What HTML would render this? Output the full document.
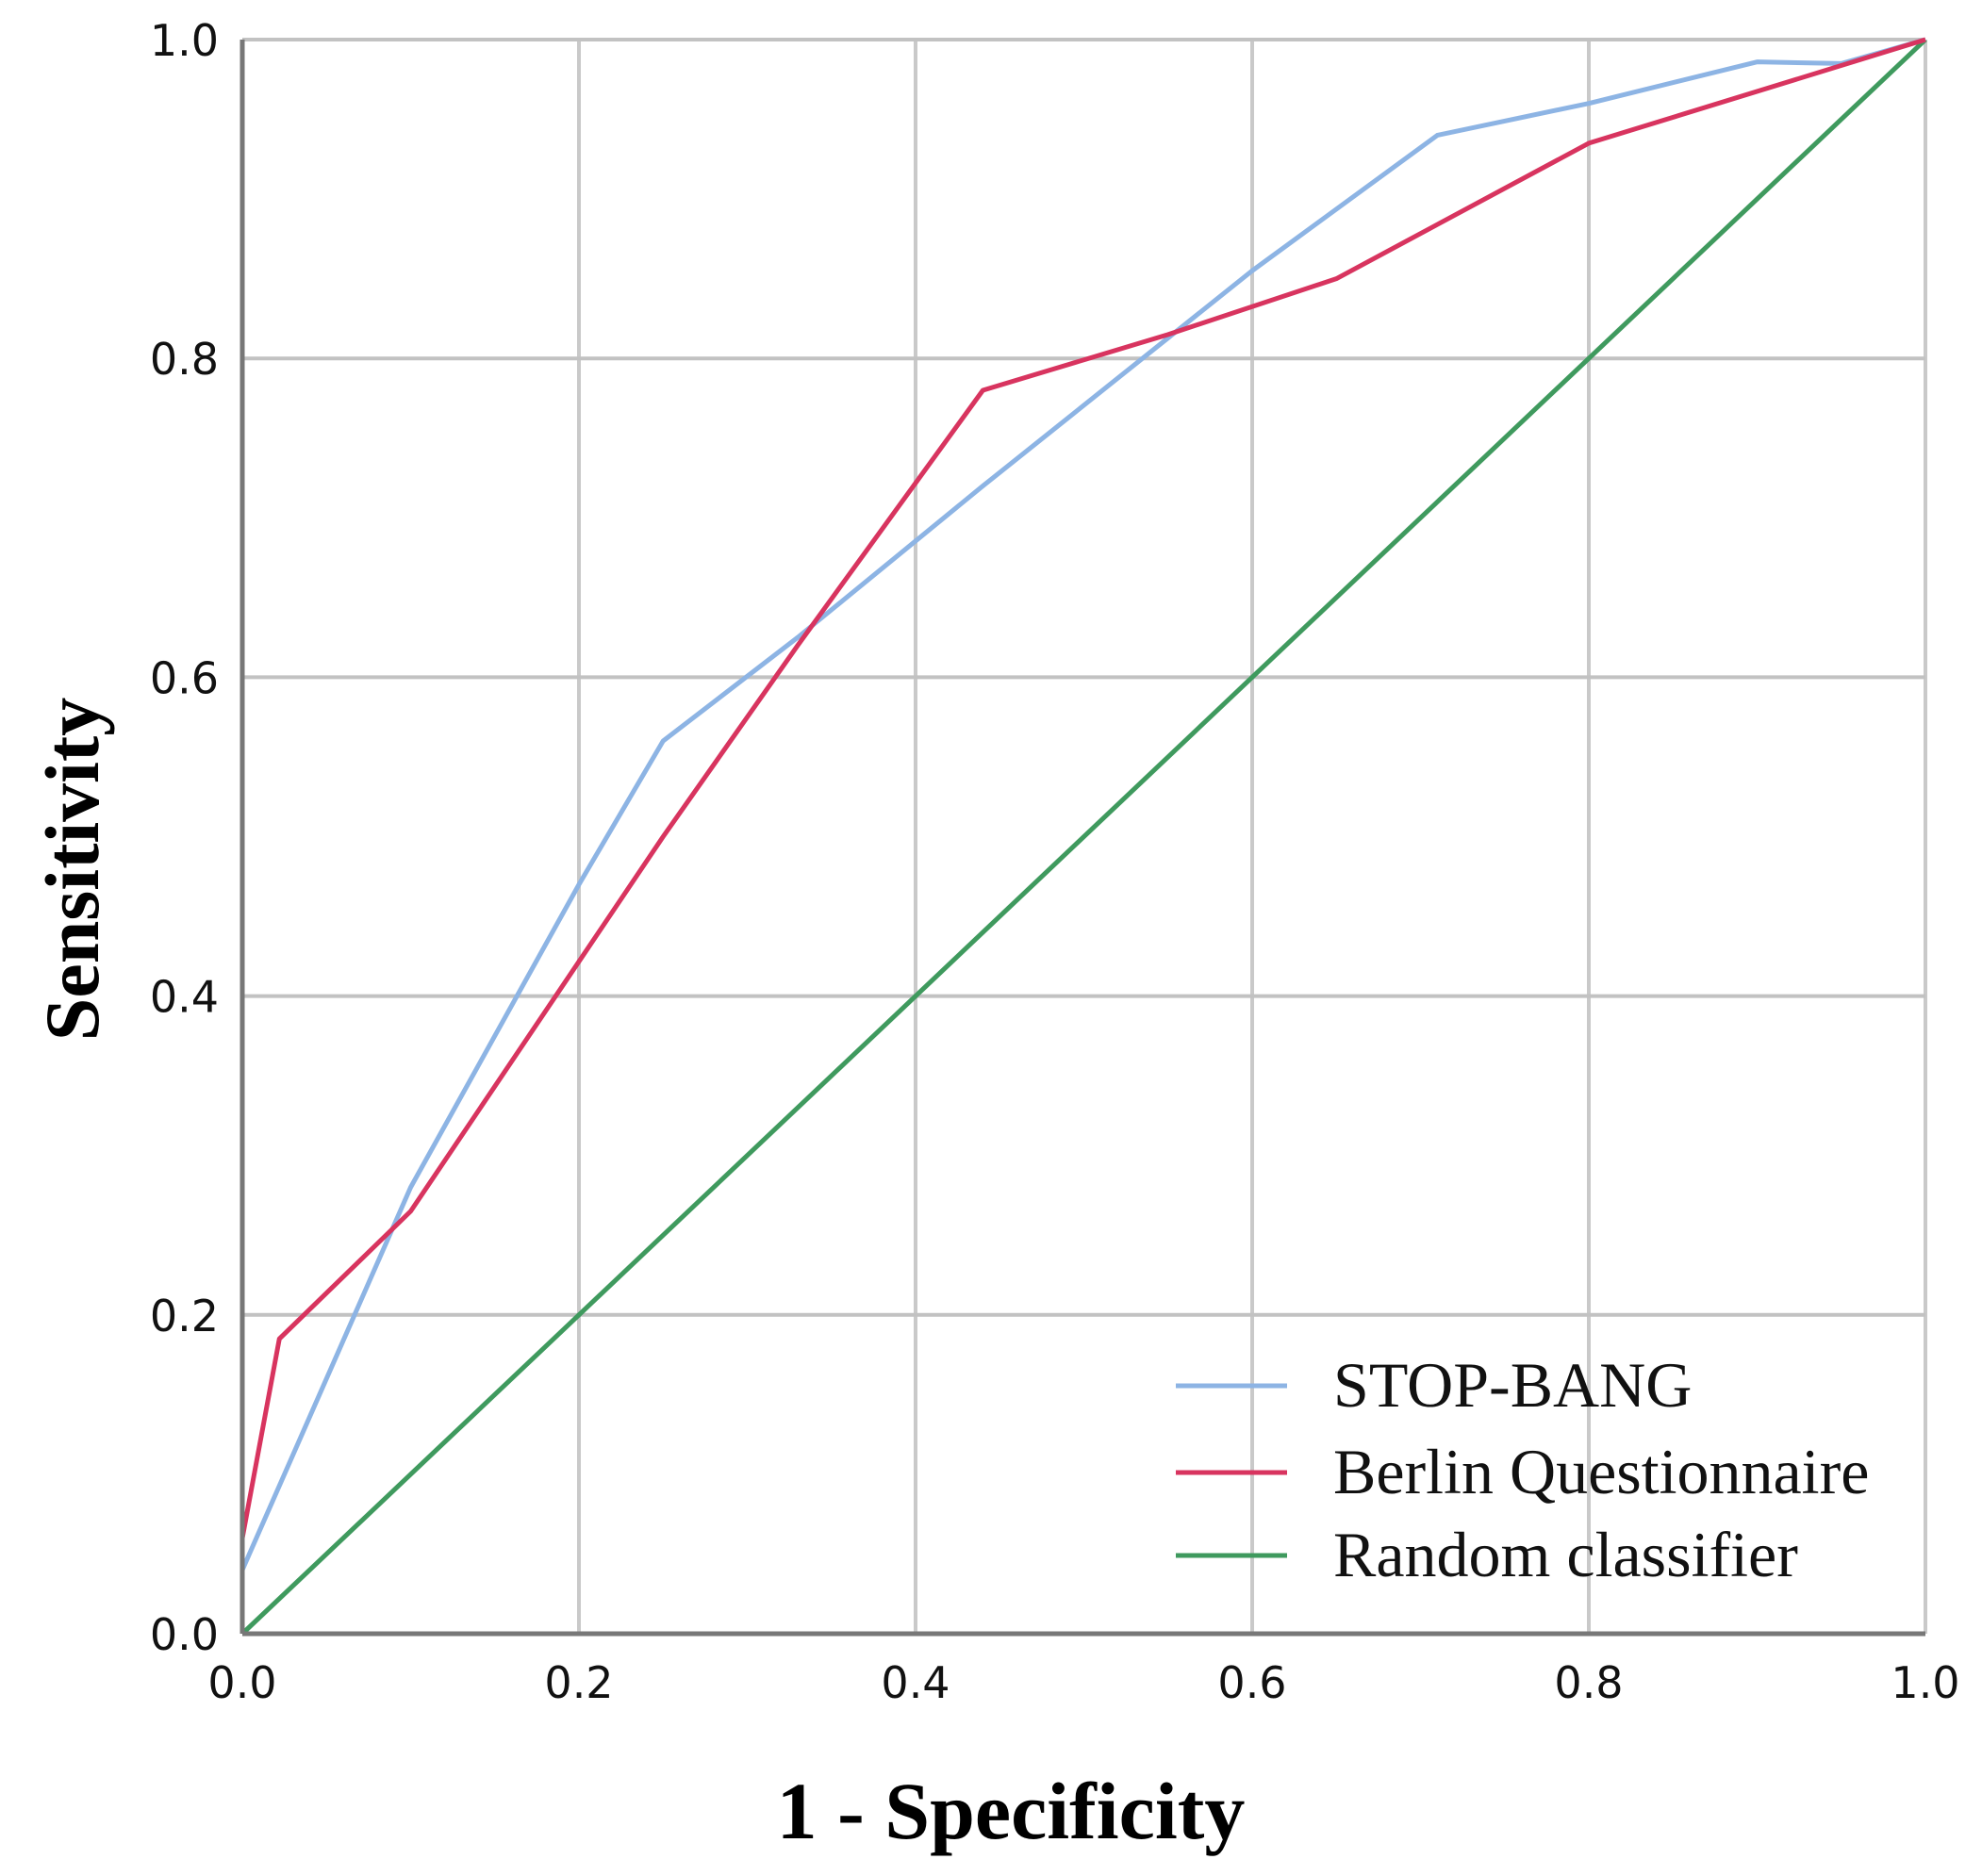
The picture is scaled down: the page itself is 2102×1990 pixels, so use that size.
<!DOCTYPE html>
<html><head><meta charset="utf-8"><style>
html,body{margin:0;padding:0;background:#fff;}
svg{display:block;}
</style></head><body>
<svg id="chart" width="2102" height="1990" viewBox="0 0 2102 1990" xmlns="http://www.w3.org/2000/svg">
<rect width="2102" height="1990" fill="#fff"/>
<g id="grid"></g>
<g id="series"></g>
<g id="axes"></g>
<g id="legend"></g>
<text x="1072" y="1950" text-anchor="middle" font-family="Liberation Serif, serif" font-weight="bold" font-size="86">1 - Specificity</text>
<text transform="translate(104,922) rotate(-90)" text-anchor="middle" font-family="Liberation Serif, serif" font-weight="bold" font-size="82">Sensitivity</text>
</svg>
<script>
const xTicks = [0, 0.2, 0.4, 0.6, 0.8, 1.0];
const yTicks = [0, 0.2, 0.4, 0.6, 0.8, 1.0];
const tickLabels = ["0.0", "0.2", "0.4", "0.6", "0.8", "1.0"];
const stopBangX = [0, 0, 0.1, 0.2, 0.25, 0.33, 0.44, 0.6, 0.71, 0.8, 0.9, 0.95, 1.0];
const stopBangY = [0, 0.04, 0.28, 0.47, 0.56, 0.625, 0.72, 0.855, 0.94, 0.96, 0.986, 0.985, 1.0];
const berlinX = [0, 0, 0.022, 0.1, 0.25, 0.33, 0.44, 0.55, 0.65, 0.8, 1.0];
const berlinY = [0, 0.06, 0.185, 0.265, 0.5, 0.62, 0.78, 0.815, 0.85, 0.935, 1.0];
const randomX = [0, 1];
const randomY = [0, 1];
const seriesNames = ["STOP-BANG", "Berlin Questionnaire", "Random classifier"];
const seriesColors = ["#8db4e4", "#d8345f", "#3f9a5e"];

const X0 = 257, X1 = 2042, Y0 = 1733, Y1 = 42;
const sx = v => X0 + v * (X1 - X0);
const sy = v => Y0 - v * (Y0 - Y1);
const NS = "http://www.w3.org/2000/svg";
function mk(tag, attrs, parent) {
  const e = document.createElementNS(NS, tag);
  for (const k in attrs) e.setAttribute(k, attrs[k]);
  parent.appendChild(e);
  return e;
}
const grid = document.getElementById('grid');
const axes = document.getElementById('axes');
const series = document.getElementById('series');
const legend = document.getElementById('legend');

xTicks.forEach((t, i) => {
  if (t > 0) {
    const l = mk('line', {x1: sx(t), x2: sx(t), y1: Y1, y2: Y0, stroke: '#c9c9c9', 'stroke-width': 4}, grid);
    
    
  }
  const tx = mk('text', {x: sx(t), y: Y0 + 68, 'text-anchor': 'middle', 'font-family': 'DejaVu Sans, sans-serif', 'font-size': 46, fill: '#111'}, axes);
  tx.textContent = tickLabels[i];
  
  
});
yTicks.forEach((t, i) => {
  if (t > 0) {
    const l = mk('line', {x1: X0, x2: X1, y1: sy(t), y2: sy(t), stroke: '#c2c2c2', 'stroke-width': 4}, grid);
    
    
  }
  const tx = mk('text', {x: X0 - 25, y: sy(t) + 17, 'text-anchor': 'end', 'font-family': 'DejaVu Sans, sans-serif', 'font-size': 46, fill: '#111'}, axes);
  tx.textContent = tickLabels[i];
  
  
});
const xa = mk('line', {x1: X0, x2: X1, y1: Y0, y2: Y0, stroke: '#777', 'stroke-width': 5}, axes);


const ya = mk('line', {x1: X0, x2: X0, y1: Y1, y2: Y0, stroke: '#777', 'stroke-width': 5}, axes);



function drawLine(xs, ys, color, name) {
  const pts = xs.map((x, i) => sx(x) + ',' + sy(ys[i])).join(' ');
  const p = mk('polyline', {points: pts, fill: 'none', stroke: color, 'stroke-width': 5, 'stroke-linejoin': 'round'}, series);
  
  
}
drawLine(randomX, randomY, seriesColors[2], 'random-classifier-line');
drawLine(stopBangX, stopBangY, seriesColors[0], 'stop-bang-line');
drawLine(berlinX, berlinY, seriesColors[1], 'berlin-questionnaire-line');

const legendYs = [1470, 1562, 1650];
seriesNames.forEach((n, i) => {
  const l = mk('line', {x1: 1247, x2: 1365, y1: legendYs[i], y2: legendYs[i], stroke: seriesColors[i], 'stroke-width': 5}, legend);
  
  
  const t = mk('text', {x: 1414, y: legendYs[i] + 22, 'font-family': 'Liberation Serif, serif', 'font-size': 68, fill: '#111'}, legend);
  t.textContent = n;
  
  
});
</script>
</body></html>
